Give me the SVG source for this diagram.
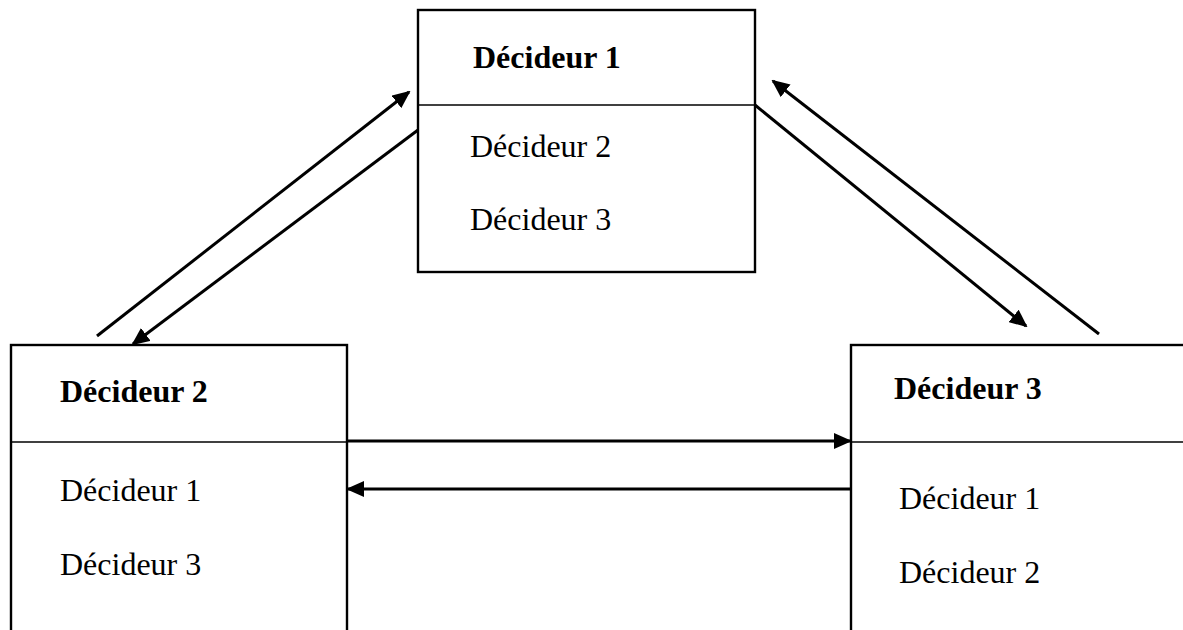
<svg xmlns="http://www.w3.org/2000/svg" width="1183" height="630" viewBox="0 0 1183 630">
<style>
.box{fill:#fff;stroke:#000;stroke-width:2.4}
.div{stroke:#000;stroke-width:1.6}
.t{font-family:"Liberation Serif","Times New Roman",serif;font-size:32px;fill:#000}
.b{font-weight:bold}
.c{stroke:#000;stroke-width:3;fill:none;marker-end:url(#ah)}
</style>
<defs>
<marker id="ah" markerUnits="userSpaceOnUse" markerWidth="18" markerHeight="16" refX="16" refY="8" orient="auto" viewBox="0 0 18 16">
<path d="M0,0 L18,8 L0,16 z" fill="#000"/>
</marker>
</defs>
<rect width="1183" height="630" fill="#fff"/>
<g id="node-decideur1">
<rect class="box" x="418" y="10" width="337" height="262"/>
<line class="div" x1="418" y1="105" x2="755" y2="105"/>
<text class="t b" x="473" y="68">Décideur 1</text>
<text class="t" x="470" y="157">Décideur 2</text>
<text class="t" x="470" y="230">Décideur 3</text>
</g>
<g id="node-decideur2">
<rect class="box" x="11" y="345" width="336" height="300"/>
<line class="div" x1="11" y1="442" x2="347" y2="442"/>
<text class="t b" x="60" y="402">Décideur 2</text>
<text class="t" x="60" y="501">Décideur 1</text>
<text class="t" x="60" y="575">Décideur 3</text>
</g>
<g id="node-decideur3">
<rect class="box" x="851" y="345" width="340" height="300"/>
<line class="div" x1="851" y1="442" x2="1190" y2="442"/>
<text class="t b" x="894" y="399">Décideur 3</text>
<text class="t" x="899" y="509">Décideur 1</text>
<text class="t" x="899" y="583">Décideur 2</text>
</g>
<g id="connectors">
<line class="c" x1="97" y1="336" x2="409" y2="92"/>
<line class="c" x1="418" y1="130" x2="133" y2="344"/>
<line class="c" x1="1099" y1="334" x2="773" y2="81"/>
<line class="c" x1="755" y1="105" x2="1026" y2="326"/>
<line class="c" x1="347" y1="441" x2="850" y2="441"/>
<line class="c" x1="851" y1="489" x2="348" y2="489"/>
</g>
</svg>
